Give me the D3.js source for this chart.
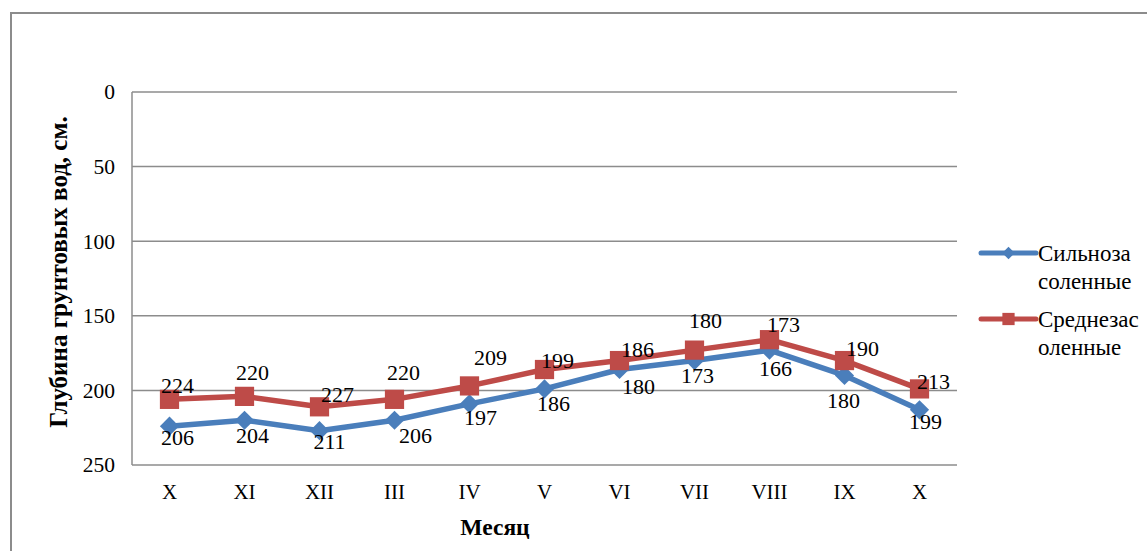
<!DOCTYPE html>
<html>
<head>
<meta charset="utf-8">
<script src="https://cdn.jsdelivr.net/npm/d3@7"></script>
<style>
  html, body { margin: 0; padding: 0; background: #fff; }
  svg { display: block; }
</style>
</head>
<body>
<svg id="chart" width="1147" height="551"></svg>
<script>
// Months of observation (Oct .. Oct)
const months = ["X", "XI", "XII", "III", "IV", "V", "VI", "VII", "VIII", "IX", "X"];
// Groundwater depth, cm
const strongSaline = [224, 220, 227, 220, 209, 199, 186, 180, 173, 190, 213];
const mediumSaline = [206, 204, 211, 206, 197, 186, 180, 173, 166, 180, 199];
const yTicks = [0, 50, 100, 150, 200, 250];
const seriesNames = [["Сильноза", "соленные"], ["Среднезас", "оленные"]];

// Manual label nudges [dx, dy] relative to the marker each label sits beside
const strongLabelNudge = [[8,-14],[8,-24],[18,-13],[9,-27],[21,-29],[13,-9],[18,-11],[11,-30],[14,-15],[18,-12],[14,-8]];
const mediumLabelNudge = [[8,11],[8,15],[10,11],[21,15],[11,13],[9,14],[19,17],[3,15],[6,18],[-1,25],[6,12]];

const FONT = "'Liberation Serif', 'Times New Roman', serif";
const svg = d3.select("#chart").attr("font-family", FONT);
const plot = { left: 132, right: 957, top: 92, bottom: 465 };
const BLUE = "#4A7EBB", RED = "#BE4B48", GRID = "#8C8C8C";

// Outer chart frame (runs past the right and bottom edges)
svg.append("rect")
  .attr("x", 11).attr("y", 13).attr("width", 1300).attr("height", 700)
  .attr("fill", "none").attr("stroke", GRID).attr("stroke-width", 2);

const x = d3.scaleBand().domain(d3.range(months.length)).range([plot.left, plot.right]);
const cx = i => x(i) + x.bandwidth() / 2;
const y = d3.scaleLinear().domain([0, 250]).range([plot.top, plot.bottom]);

// Gridlines
svg.append("g").selectAll("line").data(yTicks).join("line")
  .attr("x1", plot.left).attr("x2", plot.right)
  .attr("y1", d => y(d)).attr("y2", d => y(d))
  .attr("stroke", GRID).attr("stroke-width", 1.5);

// Vertical axis line
svg.append("line").attr("x1", plot.left).attr("x2", plot.left)
  .attr("y1", plot.top).attr("y2", plot.bottom).attr("stroke", GRID).attr("stroke-width", 1.5);

// Y tick labels
const yAxis = d3.axisLeft(y).tickValues(yTicks).tickSize(0).tickPadding(17);
const yg = svg.append("g").attr("transform", `translate(${plot.left},0)`).call(yAxis)
  .attr("font-family", FONT).attr("font-size", 21.5);
yg.select(".domain").remove();
yg.selectAll("text").attr("fill", "#000");

// X tick labels
const xAxis = d3.axisBottom(x).tickFormat(i => months[i]).tickSize(0).tickPadding(19);
const xg = svg.append("g").attr("transform", `translate(0,${plot.bottom})`).call(xAxis)
  .attr("font-family", FONT).attr("font-size", 21);
xg.select(".domain").remove();
xg.selectAll("text").attr("fill", "#000");

// Axis titles
svg.append("text").attr("x", 495).attr("y", 535).attr("text-anchor", "middle")
  .attr("font-size", 23.5).attr("font-weight", "bold").text("Месяц");
svg.append("text").attr("transform", "translate(67,272) rotate(-90)").attr("text-anchor", "middle")
  .attr("font-size", 25).attr("font-weight", "bold").text("Глубина грунтовых вод, см.");

const line = d3.line().x((d, i) => cx(i)).y(d => y(d));

// Series lines
svg.append("path").datum(strongSaline).attr("d", line)
  .attr("fill", "none").attr("stroke", BLUE).attr("stroke-width", 5.5).attr("stroke-linejoin", "round");
svg.append("path").datum(mediumSaline).attr("d", line)
  .attr("fill", "none").attr("stroke", RED).attr("stroke-width", 5.5).attr("stroke-linejoin", "round");

// Markers
const diamond = d3.symbol().type(d3.symbolDiamond2).size(235);
const square = d3.symbol().type(d3.symbolSquare).size(370);
svg.append("g").selectAll("path").data(strongSaline).join("path")
  .attr("d", diamond).attr("fill", BLUE)
  .attr("transform", (d, i) => `translate(${cx(i)},${y(d)})`);
svg.append("g").selectAll("path").data(mediumSaline).join("path")
  .attr("d", square).attr("fill", RED)
  .attr("transform", (d, i) => `translate(${cx(i)},${y(d)})`);

// Value labels: each series' labels sit beside the companion series' markers
svg.append("g").selectAll("text").data(strongSaline).join("text")
  .attr("x", (d, i) => cx(i) + strongLabelNudge[i][0])
  .attr("y", (d, i) => y(mediumSaline[i]) + strongLabelNudge[i][1])
  .attr("dy", "0.35em").attr("text-anchor", "middle").attr("font-size", 22)
  .text(d => d);
svg.append("g").selectAll("text").data(mediumSaline).join("text")
  .attr("x", (d, i) => cx(i) + mediumLabelNudge[i][0])
  .attr("y", (d, i) => y(strongSaline[i]) + mediumLabelNudge[i][1])
  .attr("dy", "0.35em").attr("text-anchor", "middle").attr("font-size", 22)
  .text(d => d);

// Legend
const legend = svg.append("g");
const legendItems = [
  { name: seriesNames[0], color: BLUE, sym: d3.symbol().type(d3.symbolDiamond2).size(100), y: 253 },
  { name: seriesNames[1], color: RED, sym: d3.symbol().type(d3.symbolSquare).size(150), y: 319 }
];
legendItems.forEach(it => {
  legend.append("line").attr("x1", 981).attr("x2", 1036).attr("y1", it.y).attr("y2", it.y)
    .attr("stroke", it.color).attr("stroke-width", 5).attr("stroke-linecap", "round");
  legend.append("path").attr("d", it.sym).attr("fill", it.color)
    .attr("transform", `translate(1008.5,${it.y})`);
  const t = legend.append("text").attr("x", 1038).attr("y", it.y).attr("dy", "0.35em").attr("font-size", 23);
  t.append("tspan").attr("x", 1038).text(it.name[0]);
  t.append("tspan").attr("x", 1038).attr("dy", 28).text(it.name[1]);
});
</script>
</body>
</html>
